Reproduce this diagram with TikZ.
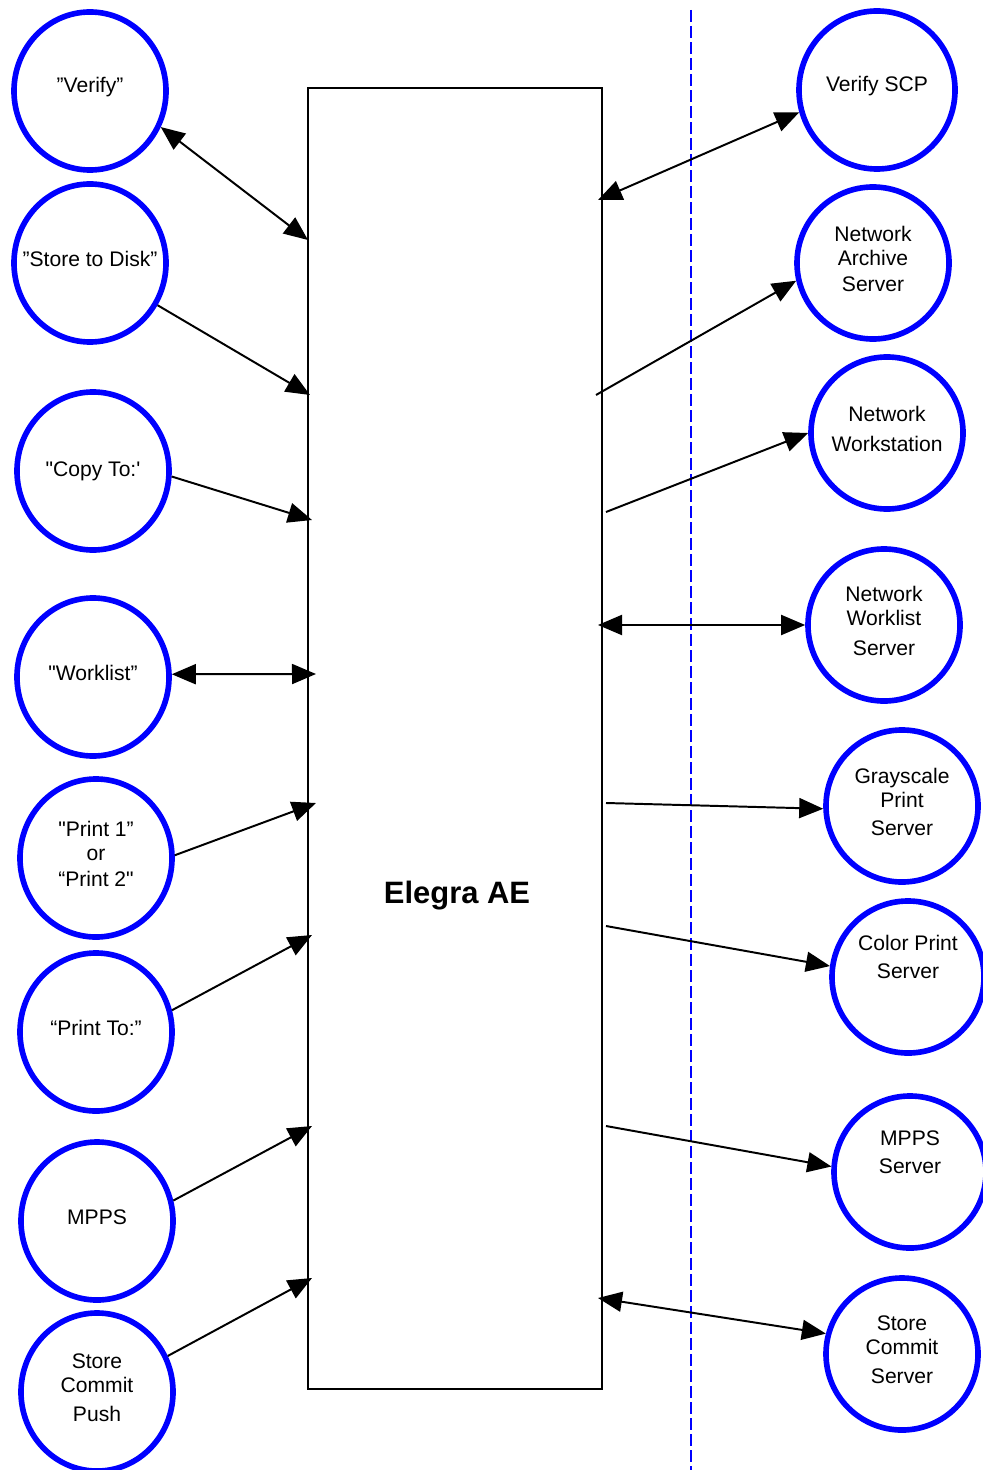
\documentclass[tikz,border=0pt]{standalone}
\usepackage{fontspec}
\newfontfamily\arial{Liberation Sans}
\usetikzlibrary{shapes.geometric,arrows.meta}

\tikzset{
  app/.style={ellipse, draw=blue, line width=4pt, minimum width=3.8cm, minimum height=3.95cm, inner sep=0pt},
  srv/.style={ellipse, draw=blue, line width=4pt, minimum width=3.8cm, minimum height=3.8cm, inner sep=0pt},
  lbl/.style={align=center, yshift=0.1cm, font=\arial\fontsize{15}{17}\selectfont},
  link/.style={line width=1.4pt, -{Triangle[length=0.6cm,width=0.5cm]}},
  both/.style={line width=1.4pt, {Triangle[length=0.6cm,width=0.5cm]}-{Triangle[length=0.6cm,width=0.5cm]}},
}

\begin{document}
\begin{tikzpicture}[x=0.025cm, y=-0.025cm]
  \useasboundingbox (0,0) rectangle (983,1470);

  % Application entity
  \node[draw, line width=1.4pt, minimum width=7.35cm, minimum height=32.525cm, inner sep=0pt] (ae) at (455,738.5) {};
  \node[font=\arial\fontsize{22}{26}\selectfont\bfseries] (aename) at (457,896) {Elegra AE};

  % Network boundary
  \draw[blue, line width=1.4pt, dash pattern=on 0.3cm off 0.1cm] (691,10) -- (691,1470);

  % Local applications
  \node[app, label={[lbl]center:{”Verify”}}] (verify) at (90,91) {};
  \node[app, label={[lbl]center:{”Store to Disk”}}] (store) at (90,263) {};
  \node[app, label={[lbl, yshift=-0.1cm]center:{"Copy To:'}}] (copy) at (93,471) {};
  \node[app, label={[lbl]center:{"Worklist”}}] (worklist) at (93,677) {};
  \node[app, label={[lbl]center:{"Print 1”\\or\\[2pt]“Print 2"}}] (print) at (96,858) {};
  \node[app, label={[lbl]center:{“Print To:”}}] (printto) at (96,1032) {};
  \node[app, label={[lbl]center:{MPPS}}] (mpps) at (97,1221) {};
  \node[app, label={[lbl]center:{Store\\Commit\\[4pt]Push}}] (push) at (97,1392) {};

  % Remote servers
  \node[srv, minimum width=3.9cm, minimum height=3.95cm, label={[lbl]center:{Verify SCP}}] (vscp) at (877,90) {};
  \node[srv, label={[lbl]center:{Network\\Archive\\[2pt]Server}}] (archive) at (873,263) {};
  \node[srv, label={[lbl]center:{Network\\[4pt]Workstation}}] (wkst) at (887,433) {};
  \node[srv, label={[lbl]center:{Network\\Worklist\\[4pt]Server}}] (wlsrv) at (884,625) {};
  \node[srv, label={[lbl]center:{Grayscale\\Print\\[3pt]Server}}] (gray) at (902,806) {};
  \node[srv, label={[lbl, yshift=0.4cm]center:{Color Print\\[3pt]Server}}] (color) at (908,977) {};
  \node[srv, label={[lbl, yshift=0.4cm]center:{MPPS\\[3pt]Server}}] (mppssrv) at (910,1172) {};
  \node[srv, label={[lbl]center:{Store\\Commit\\[4pt]Server}}] (scsrv) at (902,1354) {};

  % Ends on the box
  \coordinate (a1) at (308,240);
  \coordinate (a2) at (310,395);
  \coordinate (a3) at (312,520);
  \coordinate (a4) at (316,674);
  \coordinate (a5) at (316,803);
  \coordinate (a6) at (312,935);
  \coordinate (a7) at (312,1126);
  \coordinate (a8) at (312,1278);
  \coordinate (b1) at (598,200);
  \coordinate (b2) at (596,395);
  \coordinate (b3) at (606,512);
  \coordinate (b4) at (598,625);
  \coordinate (b5) at (606,803);
  \coordinate (b6) at (606,926);
  \coordinate (b7) at (606,1126);
  \coordinate (b8) at (598,1298);

  % Associations
  \foreach \s/\t in {store.-32/a2, copy.-4/a3, print.2/a5, printto.16/a6, mpps.15/a7, push.27/a8,
                     b2/archive.193, b3/wkst.180, b5/gray.182, b6/color.172, b7/mppssrv.176}
    \draw[link] (\s) -- (\t);
  \foreach \s/\t in {verify.-27/a1, worklist.2/a4, b1/vscp.196, b4/wlsrv.180, b8/scsrv.165}
    \draw[both] (\s) -- (\t);
\end{tikzpicture}
\end{document}
